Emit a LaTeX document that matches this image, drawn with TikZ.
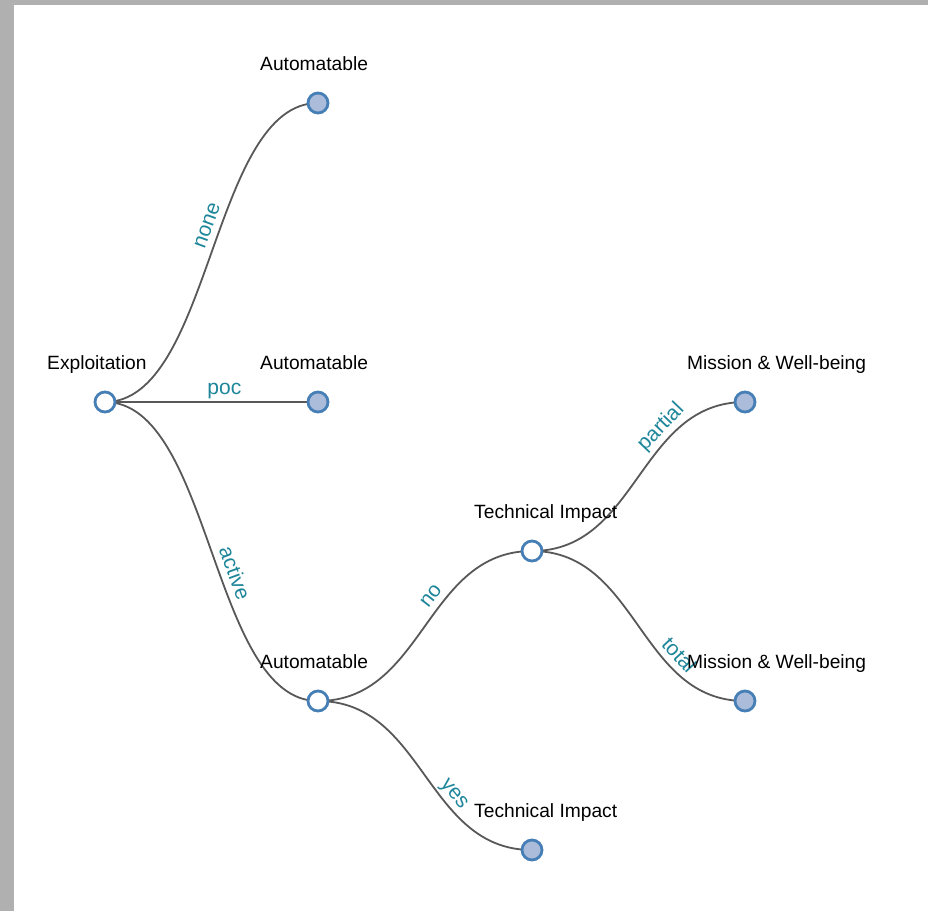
\documentclass[tikz,border=0pt]{standalone}
\usepackage{fontspec}
\setmainfont{Liberation Sans}
\usetikzlibrary{calc,backgrounds}
\pgfdeclarelayer{canvas}
\pgfsetlayers{canvas,background,main}

\definecolor{nodeedge}{RGB}{70,126,182}
\definecolor{leaffill}{RGB}{170,188,218}
\definecolor{linkgray}{RGB}{88,88,88}
\definecolor{edgeteal}{RGB}{30,134,154}
\definecolor{frame}{RGB}{176,176,176}

\tikzset{
  innernode/.style={circle, draw=nodeedge, line width=2.8pt, fill=white,
                    minimum size=20pt, inner sep=0pt},
  leafnode/.style={innernode, fill=leaffill},
  nodetext/.style={anchor=base west, inner sep=0pt, font=\fontsize{19.2}{22}\selectfont},
  link/.style={draw=linkgray, line width=1.8pt},
  tree curve/.style={to path={.. controls +(106.5,0) and +(-106.5,0) .. (\tikztotarget) \tikztonodes}},
  choice/.style={sloped, above=6.5pt, inner sep=0pt, text depth=0pt,
                 text=edgeteal, font=\fontsize{21}{24}\selectfont},
}

\begin{document}
\begin{tikzpicture}[x=1pt, y=-1pt]
\useasboundingbox (0,0) rectangle (928,911);

% page with grey frame strips on the top and left
\begin{pgfonlayer}{canvas}
  \fill[white] (0,0) rectangle (928,911);
  \fill[frame] (0,0) rectangle (928,5);
  \fill[frame] (0,0) rectangle (14,911);
\end{pgfonlayer}

% decision points and outcomes
\node[innernode] (expl)  at (105,402) {};
\node[leafnode]  (autoA) at (318,103) {};
\node[leafnode]  (autoB) at (318,402) {};
\node[innernode] (autoC) at (318,701) {};
\node[innernode] (techA) at (532,551) {};
\node[leafnode]  (techB) at (532,850) {};
\node[leafnode]  (missA) at (745,402) {};
\node[leafnode]  (missB) at (745,701) {};

% titles over each point
\node[nodetext] (explT)  at ($(expl)+(-58,-32.5)$)  {Exploitation};
\node[nodetext] (autoAT) at ($(autoA)+(-58,-32.5)$) {Automatable};
\node[nodetext] (autoBT) at ($(autoB)+(-58,-32.5)$) {Automatable};
\node[nodetext] (autoCT) at ($(autoC)+(-58,-32.5)$) {Automatable};
\node[nodetext] (techAT) at ($(techA)+(-58,-32.5)$) {Technical Impact};
\node[nodetext] (techBT) at ($(techB)+(-58,-32.5)$) {Technical Impact};
\node[nodetext] (missAT) at ($(missA)+(-58,-32.5)$) {Mission \& Well-being};
\node[nodetext] (missBT) at ($(missB)+(-58,-32.5)$) {Mission \& Well-being};

% branches
\begin{pgfonlayer}{background}
  \draw[link] (expl.center)  to[tree curve] node[choice, pos=0.55] {none}    (autoA.center);
  \draw[link] (expl.center)  to[tree curve] node[choice, pos=0.58] {poc}     (autoB.center);
  \draw[link] (expl.center)  to[tree curve] node[choice, pos=0.56] {active}  (autoC.center);
  \draw[link] (autoC.center) to[tree curve] node[choice, pos=0.60] {no}      (techA.center);
  \draw[link] (autoC.center) to[tree curve] node[choice, pos=0.62] {yes}     (techB.center);
  \draw[link] (techA.center) to[tree curve] node[choice, pos=0.69] {partial} (missA.center);
  \draw[link] (techA.center) to[tree curve] node[choice, pos=0.68] {total}   (missB.center);
\end{pgfonlayer}
\end{tikzpicture}
\end{document}
